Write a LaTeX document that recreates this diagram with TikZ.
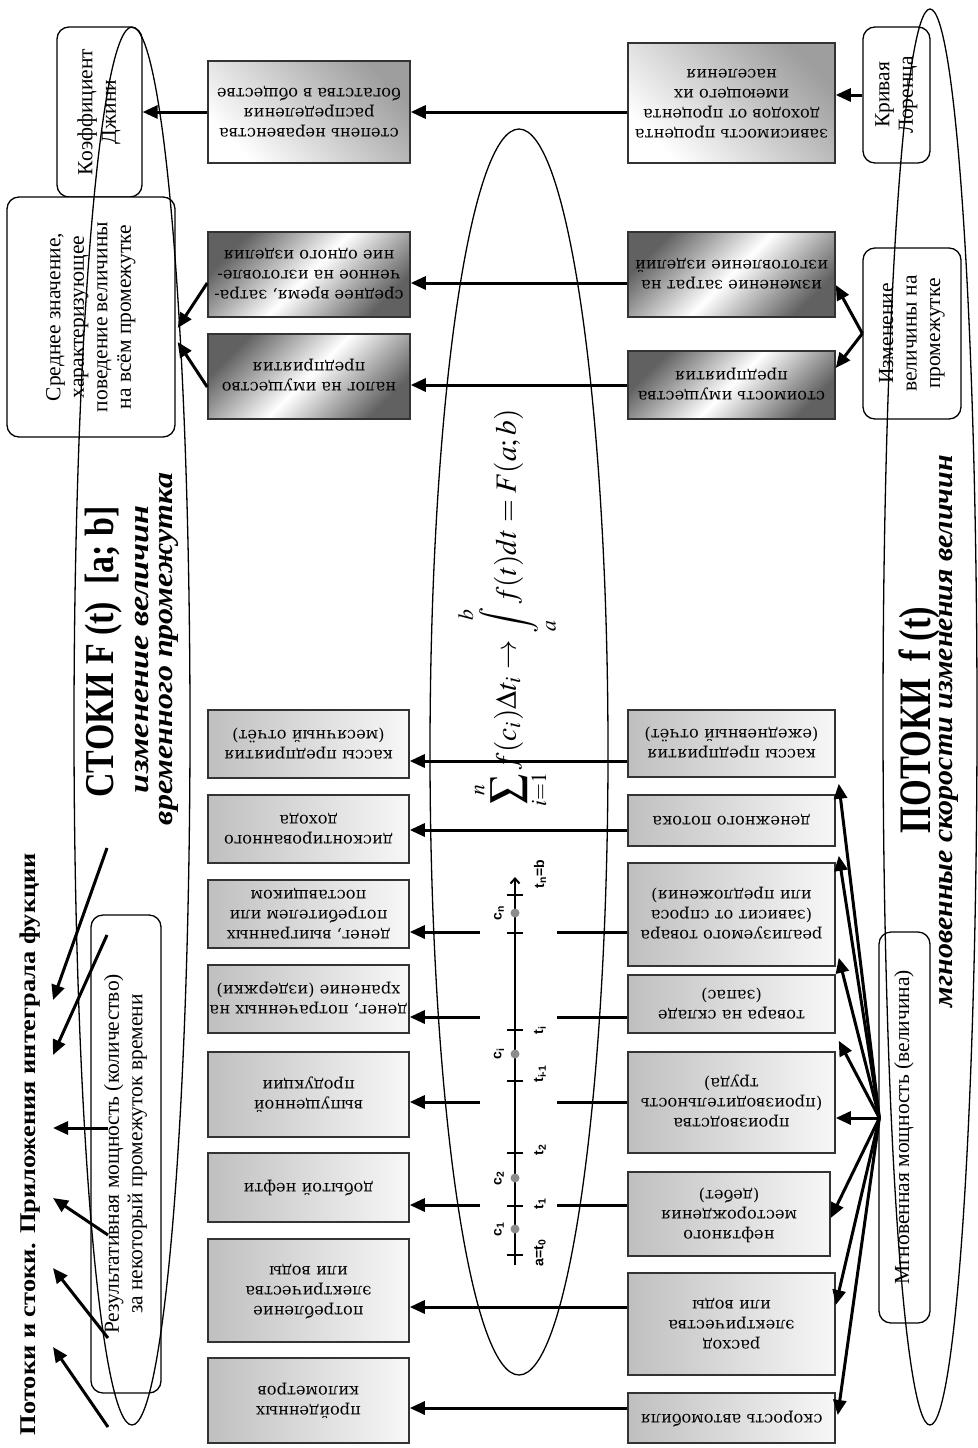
\documentclass[tikz,border=0pt]{standalone}
\usepackage{mathptmx}
\usepackage{fontspec}
\usepackage{graphicx}
\setmainfont{Liberation Serif}
\newfontfamily\bxfont{DejaVu Serif}
\newfontfamily\lbfont{Liberation Sans}
\usetikzlibrary{arrows.meta,calc}
\newcommand{\ud}[1]{\rotatebox[origin=c]{180}{\bxfont\fontsize{16.2}{20}\selectfont\begin{tabular}{@{}c@{}}#1\end{tabular}}}
\newcommand{\vt}[1]{\rotatebox[origin=c]{90}{\fontsize{21.5}{23.5}\selectfont\begin{tabular}{@{}c@{}}#1\end{tabular}}}
\tikzset{
  gbox/.style={draw=black!80, line width=1.5pt, inner sep=0pt, align=center},
  lowbox/.style={gbox, left color=black!25, right color=black!3},
  bandbox/.style={gbox, top color=black!62, bottom color=black!62, middle color=white, shading angle=45},
  cornbox/.style={gbox, top color=black!38, bottom color=white, shading angle=-45},
  rbox/.style={draw, line width=1.3pt, rounded corners=12pt, fill=white, inner sep=0pt},
  arr/.style={line width=3pt, -{Triangle[length=15pt,width=13pt]}},
  plainln/.style={line width=3pt},
  ell/.style={line width=1.3pt},
  tickln/.style={line width=2.5pt},
  axln/.style={line width=2pt, -{Straight Barb[length=5pt,width=9pt]}},
  cdot/.style={circle, fill=black!45, inner sep=0pt, minimum size=9pt},
  axl/.style={font=\lbfont\bfseries\fontsize{14}{14}\selectfont, rotate=90, inner sep=0pt},
  ttl/.style={rotate=90, anchor=base, inner sep=0pt},
}
\begin{document}
\begin{tikzpicture}[x=1pt,y=-1pt]
\fill[white] (0,0) rectangle (977,1448);
\useasboundingbox (0,0) rectangle (977,1448);

% ---------- top gradient boxes ----------
\node[cornbox, minimum width=202pt, minimum height=102pt] (lt1) at (309,112) {\ud{степень неравенства\\распределения\\богатства в обществе}};
\node[bandbox, minimum width=202pt, minimum height=85pt] (lt2) at (309,274.5) {\ud{среднее время, затра-\\ченное на изготовле-\\ние одного изделия}};
\node[bandbox, minimum width=202pt, minimum height=85pt] (lt3) at (309,376.5) {\ud{налог на имущество\\предприятия}};
\node[cornbox, minimum width=207pt, minimum height=120pt] (rt1) at (731.5,103) {\ud{зависимость процента\\доходов от процента\\имеющего их\\населения}};
\node[bandbox, minimum width=207pt, minimum height=85pt] (rt2) at (731.5,274.5) {\ud{изменение затрат на\\изготовление изделий}};
\node[bandbox, minimum width=207pt, minimum height=68pt] (rt3) at (731.5,385) {\ud{стоимость имущества\\предприятия}};

% ---------- lower boxes ----------
\node[lowbox, minimum width=201pt, minimum height=68pt] (lb1) at (308.5,744) {\ud{кассы предприятия\\(месячный отчёт)}};
\node[lowbox, minimum width=201pt, minimum height=68pt] (lb2) at (308.5,829) {\ud{дисконтированного\\дохода}};
\node[lowbox, minimum width=201pt, minimum height=68pt] (lb3) at (308.5,914) {\ud{денег, выигранных\\потребителем или\\поставщиком}};
\node[lowbox, minimum width=201pt, minimum height=68pt] (lb4) at (308.5,999) {\ud{денег, потраченных на\\хранение (издержки)}};
\node[lowbox, minimum width=201pt, minimum height=85pt] (lb5) at (308.5,1094.5) {\ud{выпущенной\\продукции}};
\node[lowbox, minimum width=201pt, minimum height=69pt] (lb6) at (308.5,1187.5) {\ud{добытой нефти}};
\node[lowbox, minimum width=201pt, minimum height=103pt] (lb7) at (308.5,1290.5) {\ud{потребление\\электричества\\или воды}};
\node[lowbox, minimum width=201pt, minimum height=85pt] (lb8) at (308.5,1400.5) {\ud{пройденных\\километров}};

\node[lowbox, minimum width=207pt, minimum height=67pt] (rb1) at (731.5,743.5) {\ud{кассы предприятия\\(ежедневный отчёт)}};
\node[lowbox, minimum width=207pt, minimum height=51pt] (rb2) at (731.5,820.5) {\ud{денежного потока}};
\node[lowbox, minimum width=207pt, minimum height=103pt] (rb3) at (731.5,914.5) {\ud{реализуемого товара\\(зависит от спроса\\или предложения)}};
\node[lowbox, minimum width=207pt, minimum height=58pt] (rb4) at (731.5,1004) {\ud{товара на складе\\(запас)}};
\node[lowbox, minimum width=207pt, minimum height=101pt] (rb5) at (731.5,1102.5) {\ud{производства\\(производительность\\труда)}};
\node[lowbox, minimum width=202pt, minimum height=84pt] (rb6) at (729,1214) {\ud{нефтяного\\месторождения\\(дебет)}};
\node[lowbox, minimum width=207pt, minimum height=102pt] (rb7) at (731.5,1324) {\ud{расход\\электричества\\или воды}};
\node[lowbox, minimum width=207pt, minimum height=50pt] (rb8) at (731.5,1418) {\ud{скорость автомобиля}};

% ---------- rounded boxes ----------
\node[rbox, minimum width=85pt, minimum height=170pt] (dj) at (99.5,112) {\vt{Коэффициент\\Джини}};
\node[rbox, minimum width=168pt, minimum height=240pt] (sr) at (91,317) {\vt{Среднее значение,\\характеризующее\\поведение величины\\на всём промежутке}};
\node[rbox, minimum width=67pt, minimum height=136pt] (kl) at (896.5,95) {\vt{Кривая\\Лоренца}};
\node[rbox, minimum width=98pt, minimum height=171pt] (iz) at (912,333.5) {\vt{Изменение\\величины на\\промежутке}};
\node[rbox, minimum width=51pt, minimum height=391pt] (mg) at (904.5,1127.5) {\vt{Мгновенная мощность (величина)}};
\node[rbox, minimum width=70pt, minimum height=478pt] (rz) at (126,1154) {\vt{Результативная мощность (количество)\\за некоторый промежуток времени}};

% ---------- titles ----------
\node[ttl] (title) at (35,1144) {\resizebox{582pt}{\height}{\bfseries\fontsize{22.5}{22.5}\selectfont Потоки и стоки. Приложения интеграла фукции}};
\node[ttl] (stoki) at (113,652) {\resizebox{291pt}{\height}{\bfseries\fontsize{41}{41}\selectfont СТОКИ F (t)\ \ [a; b]}};
\node[ttl] (st1) at (148,649) {\resizebox{288pt}{\height}{\bfseries\itshape\fontsize{28}{28}\selectfont изменение величин}};
\node[ttl] (st2) at (172,649) {\resizebox{352pt}{\height}{\bfseries\itshape\fontsize{28}{28}\selectfont временного промежутка}};
\node[ttl] (potoki) at (930,720) {\resizebox{226pt}{\height}{\bfseries\fontsize{45}{45}\selectfont ПОТОКИ\ \ f (t)}};
\node[ttl] (pt1) at (952,731) {\resizebox{552pt}{\height}{\bfseries\itshape\fontsize{28}{28}\selectfont мгновенные скорости изменения величин}};

% ---------- formula ----------
\node[rotate=90, inner sep=0pt] (formula) at (507,608) {\resizebox{397pt}{!}{$\displaystyle \sum_{i=1}^{n} f(c_i)\Delta t_i \to \int\limits_a^b f(t)dt = F(a;b)$}};

% ---------- axis ----------
\coordinate (ax0) at (515,1265);
\coordinate (ax1) at (515,877);
\draw[axln] (ax0) -- (ax1);
\foreach \yy in {895,933,1030,1081,1153,1206,1255} \draw[tickln] (507,\yy) -- (523,\yy);
\node[cdot] (cn) at (515,913) {};
\node[cdot] (ci) at (515,1054) {};
\node[cdot] (c2) at (515,1178) {};
\node[cdot] (c1) at (515,1229) {};
\node[axl] (labcn) at (499,913) {c\textsubscript{n}};
\node[axl] (labci) at (499,1054) {c\textsubscript{i}};
\node[axl] (labc2) at (499,1178) {c\textsubscript{2}};
\node[axl] (labc1) at (499,1229) {c\textsubscript{1}};
\node[axl] (labtn) at (540,874) {t\textsubscript{n}=b};
\node[axl] (labti) at (540,1030) {t\textsubscript{i}};
\node[axl] (labtim) at (540,1074) {t\textsubscript{i-1}};
\node[axl] (labt2) at (540,1150) {t\textsubscript{2}};
\node[axl] (labt1) at (540,1204) {t\textsubscript{1}};
\node[axl] (labt0) at (540,1253) {a=t\textsubscript{0}};

% ---------- connectors top ----------
\draw[arr] (kl.west) -- (kl.west -| rt1.east);
\draw[arr] (iz.west) -- ($(rt2.east)+(0,10.5)$);
\draw[arr] (iz.west) -- ($(rt3.east)+(0,-17)$);
\draw[arr] (lt1.east -| rt1.west) -- (lt1.east);
\draw[arr] ($(rt2.west)+(0,8.5)$) -- ($(lt2.east)+(0,8.5)$);
\draw[arr] (rt3.west) -- (rt3.west -| lt3.east);
\draw[arr] (lt1.west) -- (lt1.west -| dj.east);
\draw[arr] ($(lt2.west)+(0,8.5)$) -- ($(sr.east)+(2,11)$);
\draw[arr] ($(lt3.west)+(0,10.5)$) -- ($(sr.east)+(2,25)$);

% ---------- connectors lower ----------
\coordinate (y1) at (0,761);
\coordinate (y2) at (0,830);
\coordinate (y3) at (0,932);
\coordinate (y4) at (0,1017);
\coordinate (y5) at (0,1102);
\coordinate (y6) at (0,1205);
\coordinate (y7) at (0,1307);
\coordinate (y8) at (0,1408);
\coordinate (gl) at (480,0);
\coordinate (gr) at (557,0);
\draw[arr] (rb1.west |- y1) -- (lb1.east |- y1);
\draw[arr] (rb2.west |- y2) -- (lb2.east |- y2);
\draw[plainln] (rb3.west |- y3) -- (gr |- y3);
\draw[arr] (gl |- y3) -- (lb3.east |- y3);
\draw[plainln] (rb4.west |- y4) -- (gr |- y4);
\draw[arr] (gl |- y4) -- (lb4.east |- y4);
\draw[plainln] (rb5.west |- y5) -- (gr |- y5);
\draw[arr] (gl |- y5) -- (lb5.east |- y5);
\draw[plainln] (rb6.west |- y6) -- (gr |- y6);
\draw[arr] (gl |- y6) -- (lb6.east |- y6);
\draw[arr] (rb7.west |- y7) -- (lb7.east |- y7);
\draw[arr] (rb8.west |- y8) -- (lb8.east |- y8);

% ---------- fan from mg ----------
\coordinate (mo) at ($(mg.west)+(1,-9.5)$);
\draw[arr] (mo) -- ($(rb1.south east)+(3,6)$);
\draw[arr] (mo) -- ($(rb2.south east)+(3,9)$);
\draw[arr] (mo) -- ($(rb3.south east)+(3,-9)$);
\draw[arr] (mo) -- ($(rb4.south east)+(3,7)$);
\draw[arr] (mo) -- (rb5.east |- mo);
\draw[arr] (mo) -- ($(rb6.east)+(0,4)$);
\draw[arr] (mo) -- ($(rb7.east)+(0,-19)$);
\draw[arr] (mo) -- ($(rb8.east)+(2,-3)$);

% ---------- arrows to the left title ----------
\coordinate (s1) at (108,1427); \coordinate (e1) at (53,1347);
\coordinate (s2) at (108,1338); \coordinate (e2) at (53,1268);
\coordinate (s3) at (108,1235); \coordinate (e3) at (53,1198);
\coordinate (s4) at (108,1128); \coordinate (e4) at (53,1128);
\coordinate (s5) at (107,935);  \coordinate (e5) at (53,1055);
\coordinate (s6) at (107,848);  \coordinate (e6) at (53,1000);
\foreach \k in {1,...,6} \draw[arr] (s\k) -- (e\k);

% ---------- ellipses ----------
\draw[ell] (132,726) ellipse [x radius=58, y radius=699];
\draw[ell] (519,752) ellipse [x radius=89, y radius=623];
\draw[ell] (930,717) ellipse [x radius=47, y radius=708];
\end{tikzpicture}
\end{document}
